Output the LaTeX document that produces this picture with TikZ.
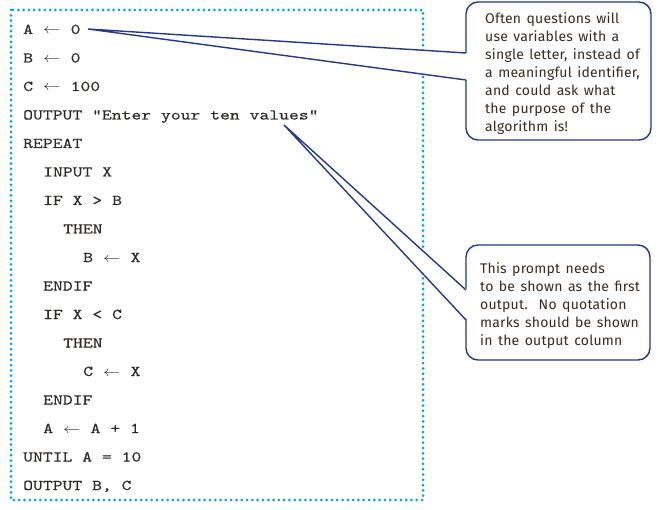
\documentclass[tikz,border=0pt]{standalone}
\usepackage{fontspec}
\usepackage{graphicx}
\newfontfamily\codefont[FakeStretch=1.25,FakeBold=0.3]{lmmono10-regular.otf}
\newfontfamily\notefont[LetterSpace=1.5,WordSpace=1.4]{Fira Sans}
\definecolor{dotcol}{HTML}{00A2E3}
\definecolor{navy}{HTML}{23388C}
\definecolor{codecol}{HTML}{2E2A26}
\definecolor{notecol}{HTML}{3A2A1E}
\newcommand\asg{\makebox[37.6pt]{\scalebox{1.2}[1]{$\leftarrow$}}}
\begin{document}
\begin{tikzpicture}[x=1pt,y=-1pt,
  code/.style={anchor=base west, inner sep=0pt, text=codecol,
    font=\codefont\fontsize{15}{18}\selectfont},
  note/.style={anchor=north west, inner sep=0pt, align=left, text=notecol,
    font=\notefont\fontsize{14}{18}\selectfont},
  dotbox/.style={draw=dotcol, line width=3pt, line cap=round,
    dash pattern=on 0pt off 5.3pt},
  calloutbox/.style={draw=navy, line width=1.4pt, rounded corners=12pt, fill=white},
  pointer/.style={draw=navy, line width=1.4pt, line join=miter}]
\useasboundingbox (0,0) rectangle (660,510);
% code frame
\draw[dotbox] (11,10) rectangle (423,500);
% code lines
\node[code] (l1)  at (23,34)    {A\asg 0};
\node[code] (l2)  at (23,62.5)  {B\asg 0};
\node[code] (l3)  at (23,91)    {C\asg 100};
\node[code] (l4)  at (23,119.5) {OUTPUT "Enter your ten values"};
\node[code] (l5)  at (23,148)   {REPEAT};
\node[code] (l6)  at (43,176.5) {INPUT X};
\node[code] (l7)  at (43,205)   {IF X > B};
\node[code] (l8)  at (63,233.5) {THEN};
\node[code] (l9)  at (83,262)   {B\asg X};
\node[code] (l10) at (43,290.5) {ENDIF};
\node[code] (l11) at (43,319)   {IF X < C};
\node[code] (l12) at (63,347.5) {THEN};
\node[code] (l13) at (83,376)   {C\asg X};
\node[code] (l14) at (43,404.5) {ENDIF};
\node[code] (l15) at (43,433)   {A\asg A + 1};
\node[code] (l16) at (23,461.5) {UNTIL A = 10};
\node[code] (l17) at (23,490)   {OUTPUT B, C};
% callout 1
\coordinate (t1) at (88,29);
\coordinate (p1a) at (466,53);
\coordinate (p1b) at (466,80);
\draw[calloutbox] (466,2) rectangle (651,140);
\fill[white] (467.5,53) -- (t1) -- (467.5,80) -- cycle;
\draw[pointer] (p1a) -- (t1) -- (p1b);
\node[note] (n1) at (485,12) {Often questions will\\use variables with a\\single letter, instead of\\a meaningful identifier,\\and could ask what\\the purpose of the\\algorithm is!};
% callout 2
\coordinate (t2) at (284,125);
\coordinate (p2a) at (466,290);
\coordinate (p2b) at (466,320);
\draw[calloutbox] (466,245) rectangle (650,360);
\fill[white] (467.5,290) -- (t2) -- (467.5,320) -- cycle;
\draw[pointer] (p2a) -- (t2) -- (p2b);
\node[note] (n2) at (480,262.5) {This prompt needs\\to be shown as the first\\output.\ \ No quotation\\marks should be shown\\in the output column};
\end{tikzpicture}
\end{document}
